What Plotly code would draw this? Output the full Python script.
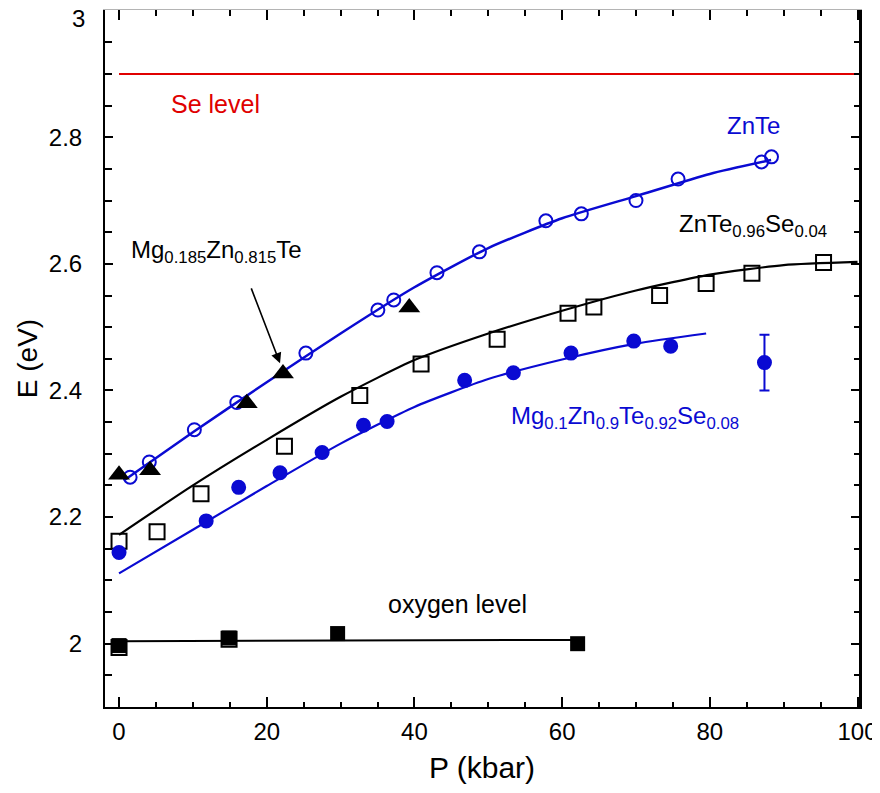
import plotly.graph_objects as go

# ---------------- data ----------------
# ZnTe (open blue circles) and its fit line
znte_p = [1.5, 4.1, 10.2, 15.95, 25.3, 35.05, 37.2, 43.05, 48.8, 57.8, 62.6, 70.0, 75.7, 87.0, 88.35]
znte_e = [2.263, 2.287, 2.338, 2.381, 2.459, 2.527, 2.543, 2.586, 2.619, 2.668, 2.679, 2.700, 2.734, 2.761, 2.769]
znte_fit_p = [0.8, 10.0, 20.0, 30.0, 40.0, 50.0, 60.0, 70.0, 80.0, 88.3]
znte_fit_e = [2.259, 2.334, 2.413, 2.490, 2.563, 2.625, 2.672, 2.707, 2.742, 2.764]

# Mg0.185Zn0.815Te (filled black triangles)
mgznte_p = [0.0, 4.2, 17.3, 22.2, 39.3]
mgznte_e = [2.267, 2.274, 2.380, 2.427, 2.531]

# ZnTe0.96Se0.04 (open black squares) and fit line
zntese_p = [0.0, 5.15, 11.1, 22.4, 32.6, 40.9, 51.2, 60.8, 64.3, 73.2, 79.5, 85.7, 95.4]
zntese_e = [2.162, 2.177, 2.237, 2.312, 2.392, 2.442, 2.481, 2.522, 2.532, 2.550, 2.569, 2.585, 2.602]
zntese_fit_p = [0.0, 10.0, 20.0, 30.0, 40.0, 50.0, 60.0, 70.0, 80.0, 90.0, 100.0]
zntese_fit_e = [2.172, 2.250, 2.322, 2.390, 2.448, 2.490, 2.526, 2.558, 2.583, 2.598, 2.603]

# Mg0.1Zn0.9Te0.92Se0.08 (filled blue circles) and fit line
mgzntese_p = [0.0, 11.8, 16.2, 21.8, 27.5, 33.1, 36.3, 46.8, 53.4, 61.2, 69.7, 74.7]
mgzntese_e = [2.144, 2.194, 2.247, 2.270, 2.302, 2.345, 2.351, 2.416, 2.428, 2.459, 2.478, 2.470]
mgzntese_err_p = [87.4]
mgzntese_err_e = [2.444]
mgzntese_err = [0.044]
mgzntese_fit_p = [0.0, 10.0, 20.0, 30.0, 40.0, 50.0, 60.0, 70.0, 79.5]
mgzntese_fit_e = [2.111, 2.180, 2.249, 2.316, 2.374, 2.418, 2.449, 2.474, 2.490]

# oxygen level (filled black squares) and line
oxy_p = [0.0, 14.9, 29.6, 62.1]
oxy_e = [1.997, 2.009, 2.016, 2.000]
oxy_open_p = [0.0, 14.9]
oxy_open_e = [1.994, 2.007]
oxy_line_p = [0.0, 62.5]
oxy_line_e = [2.004, 2.006]

# Se level
se_p = [0.0, 100.2]
se_e = [2.9, 2.9]

x_range = [-1.9, 100.2]
y_range = [1.9, 3.001]
x_ticks = [0, 20, 40, 60, 80, 100]
y_ticks = [2.0, 2.2, 2.4, 2.6, 2.8, 3.0]
y_ticklabels = ["2", "2.2", "2.4", "2.6", "2.8", ""]
y_top_label = "3"

BLUE = "#0a0ad2"
RED = "#e00000"
BLACK = "#000000"
FONT = "Liberation Sans, Arial, sans-serif"

fig = go.Figure()

# Se level
fig.add_trace(go.Scatter(x=se_p, y=se_e, mode="lines", line=dict(color=RED, width=2), showlegend=False))

# fit lines
fig.add_trace(go.Scatter(x=znte_fit_p, y=znte_fit_e, mode="lines",
                         line=dict(color=BLUE, width=2.5, shape="spline", smoothing=0.6), showlegend=False))
fig.add_trace(go.Scatter(x=zntese_fit_p, y=zntese_fit_e, mode="lines",
                         line=dict(color=BLACK, width=2.2, shape="spline", smoothing=0.6), showlegend=False))
fig.add_trace(go.Scatter(x=mgzntese_fit_p, y=mgzntese_fit_e, mode="lines",
                         line=dict(color=BLUE, width=2.2, shape="spline", smoothing=0.6), showlegend=False))
fig.add_trace(go.Scatter(x=oxy_line_p, y=oxy_line_e, mode="lines",
                         line=dict(color=BLACK, width=2), showlegend=False))

# markers
fig.add_trace(go.Scatter(x=znte_p, y=znte_e, mode="markers",
                         marker=dict(symbol="circle-open", size=13, color=BLUE, line=dict(width=2, color=BLUE)),
                         showlegend=False))
fig.add_trace(go.Scatter(x=zntese_p, y=zntese_e, mode="markers",
                         marker=dict(symbol="square-open", size=15, color=BLACK, line=dict(width=2, color=BLACK)),
                         showlegend=False))
fig.add_trace(go.Scatter(x=mgzntese_p, y=mgzntese_e, mode="markers",
                         marker=dict(symbol="circle", size=13, color=BLUE, line=dict(width=2, color=BLUE)),
                         showlegend=False))
fig.add_trace(go.Scatter(x=mgzntese_err_p, y=mgzntese_err_e, mode="markers",
                         marker=dict(symbol="circle", size=13, color=BLUE, line=dict(width=2, color=BLUE)),
                         error_y=dict(type="data", array=mgzntese_err, color=BLUE, thickness=2, width=5),
                         showlegend=False))
fig.add_trace(go.Scatter(x=mgznte_p, y=mgznte_e, mode="markers",
                         marker=dict(symbol="triangle-up", size=19, color=BLACK),
                         showlegend=False))
fig.add_trace(go.Scatter(x=oxy_open_p, y=oxy_open_e, mode="markers",
                         marker=dict(symbol="square-open", size=15, color=BLACK, line=dict(width=2, color=BLACK)),
                         showlegend=False))
fig.add_trace(go.Scatter(x=oxy_p, y=oxy_e, mode="markers",
                         marker=dict(symbol="square", size=15, color=BLACK),
                         showlegend=False))

# dummy trace for top / right axes
fig.add_trace(go.Scatter(x=x_range, y=y_range, mode="markers", marker=dict(opacity=0),
                         xaxis="x2", yaxis="y2", showlegend=False, hoverinfo="skip"))

# annotations
annots = [
    dict(x=6.7, y=2.853, text="Se level", font=dict(family=FONT, size=25, color=RED)),
    dict(x=82.0, y=2.818, text="ZnTe", font=dict(family=FONT, size=24, color=BLUE)),
    dict(x=36.1, y=2.062, text="oxygen level", font=dict(family=FONT, size=25, color=BLACK)),
    dict(x=75.6, y=2.661, text="ZnTe<sub>0.96</sub>Se<sub>0.04</sub>", font=dict(family=FONT, size=24, color=BLACK)),
    dict(x=52.8, y=2.358, text="Mg<sub>0.1</sub>Zn<sub>0.9</sub>Te<sub>0.92</sub>Se<sub>0.08</sub>",
         font=dict(family=FONT, size=24, color=BLUE)),
    dict(x=1.4, y=2.619, text="Mg<sub>0.185</sub>Zn<sub>0.815</sub>Te", font=dict(family=FONT, size=24, color=BLACK)),
]
for a in annots:
    fig.add_annotation(xref="x", yref="y", xanchor="left", yanchor="middle", showarrow=False, **a)

# top y tick label (kept inside the page)
fig.add_annotation(xref="paper", yref="y", x=0, y=3.0, xshift=-18, yshift=-8, xanchor="right", yanchor="middle",
                   text=y_top_label, showarrow=False, font=dict(family=FONT, size=24, color=BLACK))

fig.add_annotation(x=21.8, y=2.443, ax=17.83, ay=2.5636, xref="x", yref="y", axref="x", ayref="y",
                   text="", showarrow=True, arrowhead=2, arrowsize=1.3, arrowwidth=1.6, arrowcolor=BLACK)

axis_common = dict(ticks="inside", showgrid=False, zeroline=False, automargin=False)

fig.update_layout(
    width=872, height=785,
    margin=dict(l=97, r=21, t=1.5, b=86),
    paper_bgcolor="white", plot_bgcolor="white",
    font=dict(family=FONT, color=BLACK),
    xaxis=dict(range=x_range, tickvals=x_ticks, ticklen=10, tickwidth=2, tickcolor=BLACK,
               showline=True, linecolor=BLACK, linewidth=2,
               minor=dict(dtick=5, tick0=0, ticklen=5, tickwidth=1.5, tickcolor=BLACK, ticks="inside"),
               tickfont=dict(size=24, family=FONT), ticklabelstandoff=2,
               title=dict(text="P (kbar)", font=dict(size=30, family=FONT), standoff=13),
               **axis_common),
    yaxis=dict(range=y_range, tickvals=y_ticks, ticktext=y_ticklabels, ticklen=8, tickwidth=2, tickcolor=BLACK,
               showline=True, linecolor=BLACK, linewidth=2,
               minor=dict(dtick=0.05, tick0=2.0, ticklen=7, tickwidth=1.5, tickcolor=BLACK, ticks="inside"),
               tickfont=dict(size=24, family=FONT), ticklabelstandoff=16,
               title=dict(text="E (eV)", font=dict(size=28, family=FONT), standoff=3),
               **axis_common),
    xaxis2=dict(range=x_range, overlaying="x", side="top", tickvals=x_ticks, ticklen=10, tickwidth=2,
                tickcolor=BLACK, showline=True, linecolor="#b4b4b4", linewidth=1, showticklabels=False,
                minor=dict(dtick=5, tick0=0, ticklen=6, tickwidth=1.5, tickcolor=BLACK, ticks="inside"),
                **axis_common),
    yaxis2=dict(range=y_range, overlaying="y", side="right", tickvals=y_ticks, ticklen=8, tickwidth=2,
                tickcolor=BLACK, showline=True, linecolor=BLACK, linewidth=2.5, showticklabels=False,
                minor=dict(dtick=0.05, tick0=2.0, ticklen=5, tickwidth=1.5, tickcolor=BLACK, ticks="inside"),
                **axis_common),
)

fig.write_html("out.html")
